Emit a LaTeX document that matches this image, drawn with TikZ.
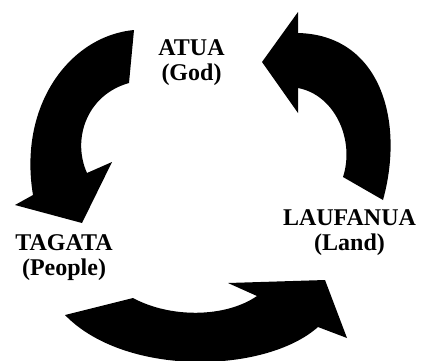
\documentclass[tikz,border=0pt]{standalone}
\usepackage{fontspec}
\setmainfont{Liberation Serif}
\usepackage{tikz}
\usetikzlibrary{positioning}

\begin{document}
\begin{tikzpicture}[x=1pt, y=-1pt,
    place/.style={align=center, inner sep=0pt, font=\bfseries\fontsize{24}{25}\selectfont},
    bigarrow/.style={fill=black}
  ]
  \useasboundingbox (0,0) rectangle (422,360);

  \node[place] (atua) at (191.5,63) {ATUA\\(God)};
  \node[place] (laufanua) at (349.5,233) {LAUFANUA\\(Land)};
  \node[place] (tagata) at (64,258) {TAGATA\\(People)};

  \fill[bigarrow] (134,30) .. controls (70,36) and (18,105) .. (33,195)
    -- (15,205) -- (82,223) -- (112,162) -- (87,173)
    .. controls (72,140) and (86,95) .. (129,83) -- cycle;
  \fill[bigarrow] (383,200) .. controls (405,120) and (380,35) .. (298,33)
    -- (298,12) -- (262,62) -- (298,113) -- (298,88)
    .. controls (335,95) and (355,140) .. (343,177) -- cycle;
  \fill[bigarrow] (133,298) .. controls (170,318) and (225,318) .. (257,296)
    -- (228,283) -- (325,280) -- (347,338) -- (318,327)
    .. controls (265,374) and (125,377) .. (65,315) -- cycle;
\end{tikzpicture}
\end{document}
